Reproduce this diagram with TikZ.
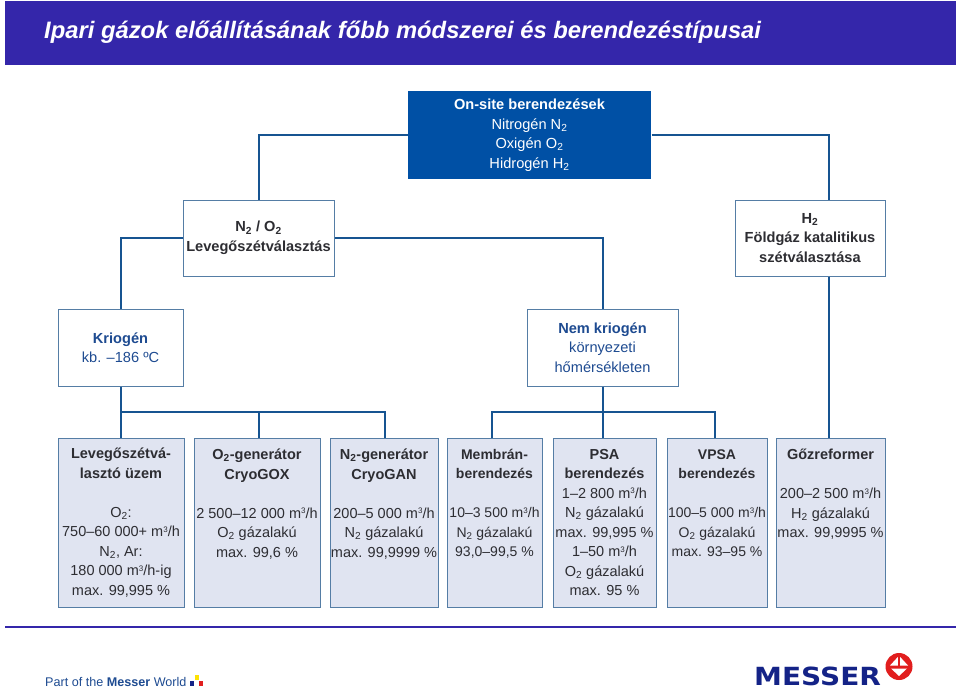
\documentclass[tikz,border=0pt]{standalone}
\usepackage{fontspec}
\setmainfont{Liberation Sans}
\newfontfamily\logofont{DejaVu Sans}
\definecolor{headblue}{RGB}{52,38,170}
\definecolor{topblue}{RGB}{0,80,165}
\definecolor{linkblue}{RGB}{22,84,145}
\definecolor{edgeblue}{RGB}{85,125,165}
\definecolor{palefill}{RGB}{224,228,241}
\definecolor{textgrey}{RGB}{45,45,50}
\definecolor{textblue}{RGB}{30,75,145}
\definecolor{logoblue}{RGB}{20,35,135}
\definecolor{logored}{RGB}{225,30,30}
\tikzset{
    box/.style={draw=edgeblue, line width=1pt, fill=white, inner sep=0pt, align=center,
        text=textgrey, font=\fontsize{14.6}{19.5}\selectfont},
    midbox/.style={box, text=textblue},
    lowbox/.style={box, fill=palefill, minimum height=169pt, font=\fontsize{14.5}{19.5}\selectfont},
    tightbox/.style={lowbox, font=\fontsize{14}{19.5}\selectfont},
    link/.style={draw=linkblue, line width=2pt},
}
\newcommand{\mh}{m\raisebox{4.5pt}{\fontsize{8}{8}\selectfont 3}/h}
\begin{document}
\begin{tikzpicture}[x=1pt,y=-1pt]
    \useasboundingbox (0,0) rectangle (960,691);

    % Header and footer
    \fill[headblue] (5,1) rectangle (956,65);
    \node[text=white, anchor=west, inner sep=0pt, font=\fontsize{23.8}{26}\selectfont\bfseries\itshape] (title) at (44,32) {Ipari gázok előállításának főbb módszerei és berendezéstípusai};
    \draw[headblue, line width=2pt] (5,627) -- (956,627);

    % Define the upper boxes
    \node[box, draw=none, fill=topblue, text=white, minimum width=243pt, minimum height=88pt] (onsite) at (529.5,135) {\textbf{On-site berendezések}\\Nitrogén N\textsubscript{2}\\Oxigén O\textsubscript{2}\\Hidrogén H\textsubscript{2}};
    \node[box, minimum width=151pt, minimum height=76pt] (air) at (258.5,238) {\textbf{N\textsubscript{2} / O\textsubscript{2}}\\\textbf{Levegőszétválasztás}};
    \node[box, minimum width=150pt, minimum height=76pt] (hyd) at (810,238) {\textbf{H\textsubscript{2}}\\\textbf{Földgáz katalitikus}\\\textbf{szétválasztása}};
    \node[midbox, minimum width=125pt, minimum height=77pt] (cryo) at (120.5,347.5) {\textbf{Kriogén}\\kb. –186 ºC};
    \node[midbox, minimum width=151pt, minimum height=77pt] (noncryo) at (602.5,347.5) {\textbf{Nem kriogén}\\környezeti\\hőmérsékleten};

    % Define the lower boxes
    \node[lowbox, minimum width=126pt] (plant) at (121,522.5) {\textbf{Levegőszétvá-}\\\textbf{lasztó üzem}\\~\\O\textsubscript{2}:\\750–60 000+ \mh\\N\textsubscript{2}, Ar:\\180 000 \mh-ig\\max. 99,995 \%};
    \node[lowbox, minimum width=126pt] (gox) at (257,522.5) {\textbf{O\textsubscript{2}-generátor}\\\textbf{CryoGOX}\\~\\2 500–12 000 \mh\\O\textsubscript{2} gázalakú\\max. 99,6 \%\\~\\~};
    \node[lowbox, minimum width=108pt] (gan) at (384,522.5) {\textbf{N\textsubscript{2}-generátor}\\\textbf{CryoGAN}\\~\\200–5 000 \mh\\N\textsubscript{2} gázalakú\\max. 99,9999 \%\\~\\~};
    \node[tightbox, minimum width=95pt] (memb) at (494.5,522.5) {\textbf{Membrán-}\\\textbf{berendezés}\\~\\10–3 500 \mh\\N\textsubscript{2} gázalakú\\93,0–99,5 \%\\~\\~};
    \node[lowbox, minimum width=103pt] (psa) at (604.5,522.5) {\textbf{PSA}\\\textbf{berendezés}\\1–2 800 \mh\\N\textsubscript{2} gázalakú\\max. 99,995 \%\\1–50 \mh\\O\textsubscript{2} gázalakú\\max. 95 \%};
    \node[tightbox, minimum width=100pt] (vpsa) at (717,522.5) {\textbf{VPSA}\\\textbf{berendezés}\\~\\100–5 000 \mh\\O\textsubscript{2} gázalakú\\max. 93–95 \%\\~\\~};
    \node[lowbox, minimum width=109pt] (steam) at (830.5,522.5) {\textbf{Gőzreformer}\\~\\200–2 500 \mh\\H\textsubscript{2} gázalakú\\max. 99,9995 \%\\~\\~\\~};

    % Draw connectors
    \draw[link] (onsite.west) -| (air.north);
    \draw[link] (onsite.east) -| ([xshift=19pt]hyd.north);
    \draw[link] (air.west) -| (cryo.north);
    \draw[link] (air.east) -| (noncryo.north);
    \draw[link] (cryo.south) -- (cryo.south |- plant.north);
    \draw[link] (cryo.south |- 0,412) -| ([xshift=2pt]gox.north);
    \draw[link] (cryo.south |- 0,412) -| ([xshift=1pt]gan.north);
    \draw[link] (noncryo.south) -- (noncryo.south |- psa.north);
    \draw[link] (noncryo.south |- 0,412) -| ([xshift=-2.5pt]memb.north);
    \draw[link] (noncryo.south |- 0,412) -| ([xshift=-2pt]vpsa.north);
    \draw[link] ([xshift=19pt]hyd.south) -- ([xshift=19pt]hyd.south |- steam.north);

    % Logo
    \node[text=logoblue, inner sep=0pt, anchor=base west, xscale=1.12, font=\logofont\fontsize{25}{25}\selectfont\bfseries] (messer) at (754,685.5) {MESSER};
    \node[fill=logored, circle, minimum size=27pt, inner sep=0pt] (emblem) at (899,666.5) {};
    \fill[white] (897.8,657) -- (897.8,665.5) -- (890,665.5) -- cycle;
    \fill[white] (900.2,657) -- (900.2,665.5) -- (908,665.5) -- cycle;
    \fill[white] (891,668.5) -- (907,668.5) -- (899,676) -- cycle;
    \node[text=textblue, inner sep=0pt, anchor=west, font=\fontsize{12.6}{14}\selectfont] (world) at (45,682) {Part of the \textbf{Messer} World};
    \fill[logoblue] (190,681) rectangle (194,686);
    \fill[yellow!85!orange] (195,675) rectangle (199,680);
    \fill[logored] (199,681) rectangle (203,686);
\end{tikzpicture}
\end{document}
